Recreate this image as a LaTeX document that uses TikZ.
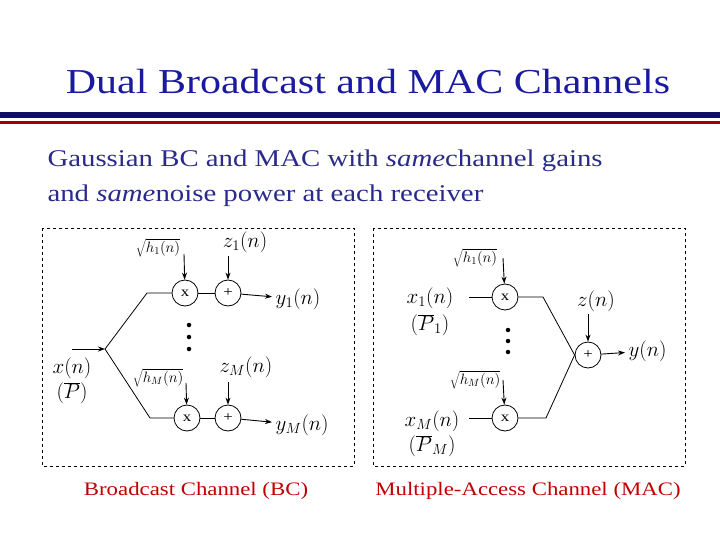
\RequirePackage{fix-cm}
\documentclass[tikz,border=0pt]{standalone}
\usepackage{fontspec}
\setmainfont[FakeStretch=1.2]{Liberation Serif}
\usetikzlibrary{arrows.meta}
\definecolor{ttl}{HTML}{1A1AA0}
\definecolor{sub}{HTML}{2A2A8A}
\definecolor{cap}{HTML}{C00000}
\begin{document}
\begin{tikzpicture}[x=1pt,y=-1pt,
  op/.style={circle,draw,line width=0.8pt,minimum size=26pt,inner sep=0pt,font=\fontsize{14}{14}\selectfont},
  lbl/.style={font=\fontsize{21}{21}\selectfont},
  slbl/.style={font=\fontsize{15}{15}\selectfont},
  arr/.style={-{Stealth[length=7pt,width=5pt]},line width=0.9pt},
  ln/.style={line width=0.8pt},
  box/.style={draw,dashed,line width=0.6pt},
  dot/.style={circle,fill,inner sep=0pt,minimum size=4.5pt}]
\useasboundingbox (0,0) rectangle (720,540);
\node[text=ttl,font=\fontsize{35}{35}\selectfont] (title) at (368,82) {Dual Broadcast and MAC Channels};
\fill[ttl!60!black] (0,112) rectangle (720,118);
\fill[cap!85!black] (0,121.5) rectangle (720,124);
\node[text=sub,font=\fontsize{24}{24}\selectfont,anchor=west] (s1) at (44,161) {Gaussian BC and MAC with \textit{same}channel gains};
\node[text=sub,font=\fontsize{24}{24}\selectfont,anchor=west] (s2) at (44,196) {and \textit{same}noise power at each receiver};
\draw[box] (42,228) rectangle (354,466);
\draw[box] (373,228) rectangle (685,466);
% BC
\node[op] (m1) at (185,293) {x};
\node[op] (a1) at (228,293) {+};
\node[op] (m2) at (187,418) {x};
\node[op] (a2) at (228,418) {+};
\coordinate (sp) at (105,349);
\coordinate (xin) at (72,349);
\draw[arr] (xin) -- (sp);
\draw[ln] (sp) -- (147,293) -- (m1);
\draw[ln] (sp) -- (150,418) -- (m2);
\draw[ln] (m1) -- (a1);
\draw[ln] (m2) -- (a2);
\node[lbl,anchor=west] (y1) at (272,299) {$y_1(n)$};
\node[lbl,anchor=west] (yM) at (272,425) {$y_M(n)$};
\draw[arr] (a1) -- (y1);
\draw[arr] (a2) -- (yM);
\node[slbl] (h1) at (158,248) {$\sqrt{h_1(n)}$};
\node[slbl] (hM) at (158,378) {$\sqrt{h_M(n)}$};
\draw[arr] (184,254) -- (m1);
\draw[arr] (186,383) -- (m2);
\node[lbl] (z1) at (245,242) {$z_1(n)$};
\node[lbl] (zM) at (246,367) {$z_M(n)$};
\draw[arr] (228,256) -- (a1);
\draw[arr] (228,382) -- (a2);
\node[dot] (d1) at (189,325) {}; \node[dot] (d2) at (189,337) {}; \node[dot] (d3) at (189,349) {};
\node[lbl] (xn) at (72,368) {$x(n)$};
\node[lbl] (P) at (72,393) {$(\overline{P})$};
% MAC
\node[op] (n1) at (505,297) {x};
\node[op] (n2) at (505,418) {x};
\node[op] (ad) at (588,355) {+};
\coordinate (i1) at (469,297); \coordinate (i2) at (469,418);
\draw[ln] (i1) -- (n1);
\draw[ln] (i2) -- (n2);
\draw[ln] (n1) -- (543,297) -- (ad.west);
\draw[ln] (n2) -- (546,418) -- (ad.west);
\node[lbl,anchor=west] (yn) at (625,351) {$y(n)$};
\draw[arr] (ad) -- (yn);
\node[lbl] (zn) at (596,301) {$z(n)$};
\draw[arr] (588,314) -- (ad);
\node[slbl] (g1) at (475,258) {$\sqrt{h_1(n)}$};
\node[slbl] (gM) at (475,380) {$\sqrt{h_M(n)}$};
\draw[arr] (503,258) -- (n1);
\draw[arr] (503,380) -- (n2);
\node[dot] (e1) at (508,330) {}; \node[dot] (e2) at (508,341) {}; \node[dot] (e3) at (508,352) {};
\node[lbl] (x1) at (430,298) {$x_1(n)$};
\node[lbl] (P1) at (430,325) {$(\overline{P}_1)$};
\node[lbl] (xM) at (432,421) {$x_M(n)$};
\node[lbl] (PM) at (432,446) {$(\overline{P}_M)$};
\node[text=cap,font=\fontsize{19}{19}\selectfont] (c1) at (196,491) {Broadcast Channel (BC)};
\node[text=cap,font=\fontsize{19}{19}\selectfont] (c2) at (528,491) {Multiple-Access Channel (MAC)};
\end{tikzpicture}
\end{document}
